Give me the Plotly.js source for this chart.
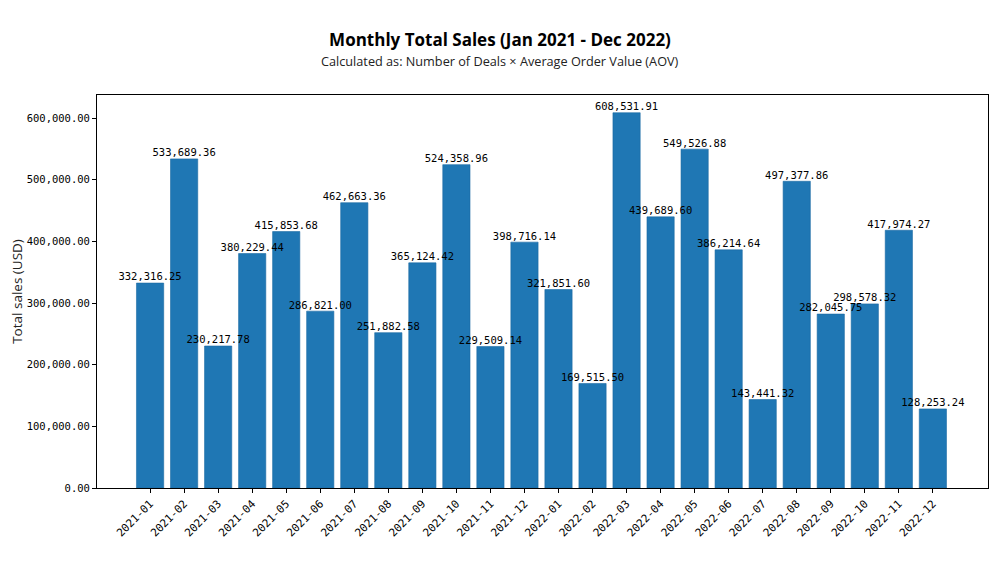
<!DOCTYPE html>
<html>
<head>
<meta charset="utf-8">
<script src="https://cdn.plot.ly/plotly-3.0.1.min.js"></script>
<style>html,body{margin:0;padding:0;background:#fff;}#chart{width:1000px;height:563px;}</style>
</head>
<body>
<div id="chart"></div>
<script>
const months = ["2021-01","2021-02","2021-03","2021-04","2021-05","2021-06","2021-07","2021-08","2021-09","2021-10","2021-11","2021-12",
"2022-01","2022-02","2022-03","2022-04","2022-05","2022-06","2022-07","2022-08","2022-09","2022-10","2022-11","2022-12"];
const sales = [332316.25,533689.36,230217.78,380229.44,415853.68,286821.00,462663.36,251882.58,365124.42,524358.96,229509.14,398716.14,
321851.60,169515.50,608531.91,439689.60,549526.88,386214.64,143441.32,497377.86,282045.75,298578.32,417974.27,128253.24];
const yTicks = [0,100000,200000,300000,400000,500000,600000];

const monoFont = "'DejaVu Sans Mono', 'Liberation Mono', monospace";
const labels = sales.map(v => v.toLocaleString('en-US', {minimumFractionDigits: 2, maximumFractionDigits: 2}));

const bars = {
  type: 'bar',
  x: months,
  y: sales,
  width: 0.8,
  marker: {color: '#1f77b4', line: {color: '#1b6aa3', width: 0.6}},
  hoverinfo: 'x+y'
};

const valueLabels = {
  type: 'scatter',
  mode: 'text',
  x: months,
  y: sales,
  text: labels,
  textposition: 'top center',
  cliponaxis: false,
  textfont: {family: monoFont, size: 10.5, color: '#000'},
  hoverinfo: 'skip'
};

const layout = {
  width: 1000, height: 563,
  margin: {l: 97, r: 12, t: 95, b: 75},
  paper_bgcolor: '#fff', plot_bgcolor: '#fff',
  showlegend: false,
  bargap: 0.2,
  title: {
    text: '<b>Monthly Total Sales (Jan 2021 - Dec 2022)</b>',
    font: {family: "'Open Sans', sans-serif", size: 17, color: '#000'},
    x: 0.5, xanchor: 'center', xref: 'container',
    y: 1 - 40/563, yanchor: 'middle', yref: 'container'
  },
  annotations: [{
    text: 'Calculated as: Number of Deals × Average Order Value (AOV)',
    font: {family: "'Open Sans', sans-serif", size: 12.7, color: '#222'},
    xref: 'paper', yref: 'paper',
    x: (500 - 97) / (1000 - 97 - 12), xanchor: 'center',
    y: (488 - 61) / (563 - 95 - 75), yanchor: 'middle',
    showarrow: false
  }],
  xaxis: {
    type: 'category',
    range: [-1.56, 24.62],
    tickangle: -45,
    ticks: 'outside', ticklen: 4, tickwidth: 1, tickcolor: '#000',
    showline: true, linecolor: '#000', linewidth: 1, mirror: true,
    showgrid: false, zeroline: false,
    tickfont: {family: monoFont, size: 11, color: '#000'}
  },
  yaxis: {
    range: [0, 637300],
    tickvals: yTicks,
    tickformat: ',.2f',
    ticks: 'outside', ticklen: 4, tickwidth: 1, tickcolor: '#000',
    showline: true, linecolor: '#000', linewidth: 1, mirror: true,
    showgrid: false, zeroline: false,
    tickfont: {family: monoFont, size: 10.5, color: '#000'},
    title: {text: 'Total sales (USD)', font: {family: "'Open Sans', sans-serif", size: 13.5, color: '#222'}, standoff: 0}
  }
};

Plotly.newPlot('chart', [bars, valueLabels], layout, {displayModeBar: false, staticPlot: true});
</script>
</body>
</html>
